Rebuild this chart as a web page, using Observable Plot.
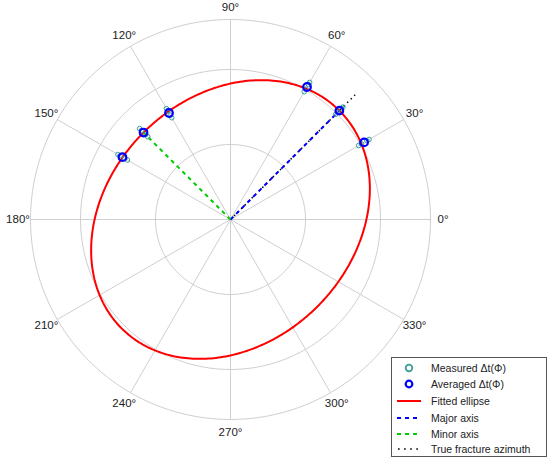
<!DOCTYPE html>
<html><head><meta charset="utf-8">
<script src="https://cdn.jsdelivr.net/npm/d3@7"></script>
<script src="https://cdn.jsdelivr.net/npm/@observablehq/plot@0.6"></script>
<style>
body{margin:0;background:#fff;font-family:"Liberation Sans",Arial,sans-serif;}
#wrap{position:relative;width:550px;height:464px;}
#legend{position:absolute;left:391px;top:357px;width:156px;height:100px;border:1px solid #555;background:#fff;box-sizing:border-box;font-size:10.5px;color:#222;}
.row{position:absolute;left:0;height:16px;width:150px;display:flex;align-items:center;}
.row svg{flex:none;margin-left:5px;margin-right:9px;}
</style></head><body><div id="wrap"></div>
<script>
// ---- data ----
const azimuths = [30, 45, 60, 120, 135, 150];
const averagedDt = [6.17, 6.16, 6.12, 4.92, 4.92, 4.99];
const measuredDt = [
  [5.92, 6.05, 6.30, 6.40],
  [5.95, 6.05, 6.28, 6.36],
  [5.90, 6.02, 6.24, 6.33],
  [4.70, 4.82, 5.02, 5.12],
  [4.68, 4.80, 5.04, 5.14],
  [4.76, 4.88, 5.10, 5.20]
];
const ellipseA = 6.16;        // semi-major
const ellipseB = 4.92;        // semi-minor
const ellipseAzimuth = 45;    // major-axis direction (deg)
const fractureAzimuth = 45;
const fractureLength = 7.05;
const ringRadii = [3, 6, 8];
const rMax = 8;
const spokeAngles = [0, 30, 60, 90, 120, 150, 180, 210, 240, 270, 300, 330];
const angleLabels = ["0°","30°","60°","90°","120°","150°","180°","210°","240°","270°","300°","330°"];
const labelRadius = 8.5;
const legendLabels = ["Measured Δt(Φ)", "Averaged Δt(Φ)", "Fitted ellipse", "Major axis", "Minor axis", "True fracture azimuth"];

// ---- helpers ----
const rad = d => d * Math.PI / 180;
const px = (r, a) => r * Math.cos(rad(a));
const py = (r, a) => r * Math.sin(rad(a));

const ringData = ringRadii.flatMap(r => d3.range(0, 361, 2).map(a => ({ring: r, x: px(r, a), y: py(r, a)})));
const spokes = spokeAngles.map(a => ({x1: 0, y1: 0, x2: px(rMax, a), y2: py(rMax, a)}));
const labels = spokeAngles.map((a, i) => ({x: px(labelRadius, a), y: py(labelRadius, a), text: angleLabels[i]}));

const ellipse = d3.range(0, 361, 1).map(t => {
  const phi = rad(t - ellipseAzimuth);
  const r = ellipseA * ellipseB / Math.sqrt((ellipseB * Math.cos(phi)) ** 2 + (ellipseA * Math.sin(phi)) ** 2);
  return {x: px(r, t), y: py(r, t)};
});
const measured = azimuths.flatMap((a, i) => measuredDt[i].map(r => ({x: px(r, a), y: py(r, a)})));
const averaged = azimuths.map((a, i) => ({x: px(averagedDt[i], a), y: py(averagedDt[i], a)}));
const majorAxis = [{x1: 0, y1: 0, x2: px(ellipseA, ellipseAzimuth), y2: py(ellipseA, ellipseAzimuth)}];
const minorAxis = [{x1: 0, y1: 0, x2: px(ellipseB, ellipseAzimuth + 90), y2: py(ellipseB, ellipseAzimuth + 90)}];
const fracture = [{x1: 0, y1: 0, x2: px(fractureLength, fractureAzimuth), y2: py(fractureLength, fractureAzimuth)}];

const chart = Plot.plot({
  width: 550, height: 464,
  marginLeft: 30, marginRight: 120, marginTop: 19, marginBottom: 45,
  x: {domain: [-rMax, rMax], axis: null},
  y: {domain: [-rMax, rMax], axis: null},
  style: {fontFamily: '"Liberation Sans", Arial, sans-serif', background: "#fff", overflow: "visible"},
  marks: [
    Plot.line(ringData, {x: "x", y: "y", z: "ring", stroke: "#cfcfcf", strokeWidth: 1}),
    Plot.link(spokes, {x1: "x1", y1: "y1", x2: "x2", y2: "y2", stroke: "#cfcfcf", strokeWidth: 1}),
    Plot.text(labels, {x: "x", y: "y", text: "text", fontSize: 11.5, fill: "#222", textAnchor: "middle"}),
    Plot.line(ellipse, {x: "x", y: "y", stroke: "#ff0000", strokeWidth: 2}),
    Plot.link(fracture, {x1: "x1", y1: "y1", x2: "x2", y2: "y2", stroke: "#000", strokeWidth: 1.5, strokeDasharray: "1.5,3.5"}),
    Plot.link(majorAxis, {x1: "x1", y1: "y1", x2: "x2", y2: "y2", stroke: "#0000ff", strokeWidth: 2, strokeDasharray: "4,4"}),
    Plot.link(minorAxis, {x1: "x1", y1: "y1", x2: "x2", y2: "y2", stroke: "#00cc00", strokeWidth: 2, strokeDasharray: "4,4"}),
    Plot.dot(measured, {x: "x", y: "y", r: 2.3, stroke: "#3a9d9a", strokeWidth: 1, fill: "none"}),
    Plot.dot(averaged, {x: "x", y: "y", r: 3.8, stroke: "#0000ff", strokeWidth: 2.2, fill: "none"})
  ]
});
const wrap = document.getElementById("wrap");
wrap.appendChild(chart);

// legend
const legend = document.createElement("div");
legend.id = "legend";
const swatches = [
  '<circle cx="12" cy="6" r="3.3" fill="none" stroke="#3a9d9a" stroke-width="1.8"/>',
  '<circle cx="12" cy="6" r="3.3" fill="none" stroke="#0000ff" stroke-width="2.2"/>',
  '<line x1="0" y1="6" x2="24" y2="6" stroke="#ff0000" stroke-width="2"/>',
  '<line x1="0" y1="6" x2="24" y2="6" stroke="#0000ff" stroke-width="2" stroke-dasharray="4,4"/>',
  '<line x1="0" y1="6" x2="24" y2="6" stroke="#00cc00" stroke-width="2" stroke-dasharray="4,4"/>',
  '<line x1="1" y1="6" x2="24" y2="6" stroke="#000" stroke-width="1.6" stroke-dasharray="1.6,4.5"/>'
];
const centers = [9.7, 26.3, 43, 59.5, 75.8, 91];
legendLabels.forEach((t, i) => {
  const row = document.createElement("div");
  row.className = "row";
  row.style.top = (centers[i] - 8) + "px";
  row.innerHTML = '<svg width="25" height="12">' + swatches[i] + '</svg><span>' + t + '</span>';
  legend.appendChild(row);
});
wrap.appendChild(legend);
</script></body></html>
